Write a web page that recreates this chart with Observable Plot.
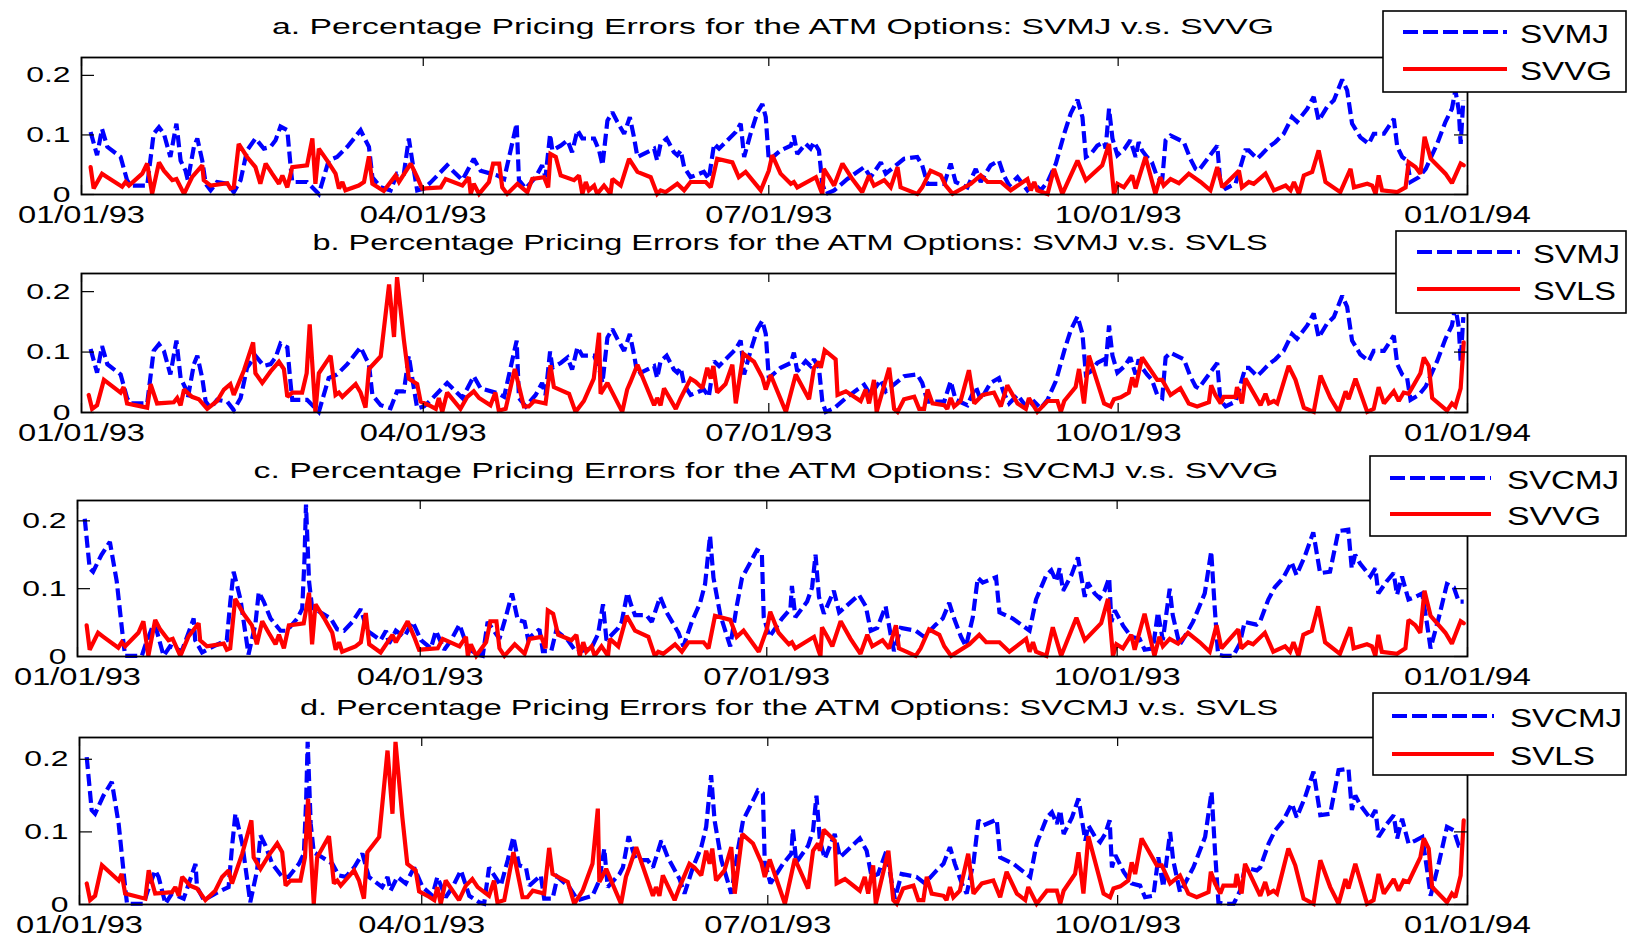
<!DOCTYPE html>
<html><head><meta charset="utf-8">
<script src="https://cdn.jsdelivr.net/npm/d3@7"></script>
<script src="https://cdn.jsdelivr.net/npm/@observablehq/plot@0.6"></script>
<style>
html,body{margin:0;padding:0;background:#fff;}
#root{position:relative;width:1627px;height:937px;overflow:hidden;font-family:"Liberation Sans",Arial,sans-serif;}
#root svg{position:absolute;left:0;margin:0;}
</style></head><body><div id="root"></div>
<script>
// [day of 1993, pricing error]
const svmj = [[2.4,.105],[4.1,.066],[5.4,.110],[6.8,.080],[10.3,.063],[12.0,.024],[12.9,.015],[17.3,.015],[19.0,.102],[20.4,.113],[21.7,.102],[23.4,.063],[25.0,.119],[26.1,.057],[27.4,.040],[28.0,.024],[29.6,.080],[30.5,.094],[31.8,.057],[32.7,.018],[34.0,.007],[35.7,.021],[38.4,.018],[40.1,.004],[41.9,.024],[43.6,.074],[45.8,.094],[48.0,.077],[49.8,.080],[51.1,.091],[52.4,.114],[54.2,.108],[55.0,.052],[55.5,.021],[59.4,.021],[62.5,.001],[65.1,.057],[67.3,.063],[70.0,.080],[73.5,.108],[74.8,.091],[75.7,.080],[76.6,.029],[78.8,.012],[81.4,.007],[83.1,.035],[84.9,.035],[86.2,.094],[87.1,.057],[88.4,.007],[90.2,.010],[91.9,.020],[96.3,.049],[100.3,.024],[103.3,.060],[105.1,.040],[109.5,.032],[111.3,.026],[113.0,.074],[114.6,.119],[115.2,.024],[117.0,.010],[119.6,.029],[121.3,.049],[122.2,.029],[123.4,.101],[124.0,.074],[126.2,.082],[128.0,.091],[129.2,.071],[130.6,.108],[131.9,.094],[135.0,.094],[136.3,.074],[137.2,.049],[138.5,.124],[139.8,.138],[141.1,.122],[142.9,.102],[144.4,.130],[145.5,.096],[146.4,.063],[150.8,.077],[151.6,.057],[152.5,.085],[154.1,.094],[156.0,.071],[156.9,.066],[157.8,.074],[158.7,.046],[160.4,.029],[163.9,.038],[165.2,.026],[166.6,.085],[167.9,.077],[172.3,.105],[173.6,.119],[174.5,.063],[176.2,.102],[178.0,.138],[179.3,.152],[180.2,.130],[181.0,.057],[184.1,.074],[186.8,.082],[187.6,.099],[188.5,.068],[190.7,.085],[192.0,.077],[192.9,.088],[194.2,.074],[195.1,.018],[196.0,.001],[198.2,.007],[201.7,.026],[206.1,.046],[207.8,.029],[210.5,.054],[211.8,.035],[216.6,.060],[220.1,.063],[221.4,.049],[222.8,.018],[227.2,.018],[228.9,.052],[230.2,.021],[233.3,.012],[235.5,.043],[236.8,.021],[239.4,.049],[241.6,.057],[242.9,.032],[244.3,.015],[246.5,.029],[249.1,.007],[250.9,.018],[252.6,.007],[254.4,.021],[256.6,.052],[258.8,.102],[260.5,.136],[262.3,.159],[263.6,.130],[264.5,.063],[265.8,.068],[267.5,.082],[269.3,.088],[269.7,.077],[270.6,.144],[271.5,.094],[272.8,.066],[274.6,.076],[276.2,.091],[277.6,.063],[278.4,.088],[279.3,.074],[280.6,.063],[281.9,.054],[283.3,.029],[284.6,.024],[285.5,.091],[286.8,.099],[290.3,.088],[292.0,.060],[293.4,.043],[294.2,.040],[299.1,.082],[299.9,.021],[301.3,.010],[303.9,.018],[306.5,.074],[307.4,.074],[309.6,.060],[310.9,.068],[312.7,.080],[314.4,.088],[316.6,.102],[318.8,.130],[320.1,.122],[322.8,.144],[324.5,.164],[325.8,.124],[328.0,.147],[329.8,.158],[332.0,.193],[333.3,.175],[334.6,.119],[336.8,.096],[339.0,.085],[340.3,.102],[343.0,.102],[345.6,.127],[346.5,.080],[347.8,.063],[349.1,.057],[350.0,.021],[352.2,.029],[354.0,.043],[357.0,.085],[359.2,.122],[360.9,.144],[361.8,.175],[362.7,.141],[363.2,.085],[363.9,.158]];

const svvg = [[2.4,.046],[3.2,.010],[5.4,.035],[6.8,.029],[10.7,.013],[11.6,.021],[12.5,.015],[16.0,.035],[17.3,.052],[18.6,.001],[20.4,.054],[21.7,.040],[23.9,.024],[25.0,.026],[27.0,.001],[29.1,.029],[31.8,.049],[32.2,.024],[34.0,.015],[38.4,.019],[39.2,.010],[40.1,.012],[41.4,.085],[43.6,.063],[45.8,.046],[47.1,.018],[48.5,.052],[50.2,.035],[52.0,.018],[52.9,.032],[54.2,.012],[55.5,.046],[59.4,.049],[60.8,.094],[61.6,.018],[62.5,.077],[64.7,.057],[66.9,.035],[67.8,.010],[68.7,.021],[69.5,.007],[73.0,.015],[74.4,.021],[75.7,.064],[76.6,.018],[79.6,.006],[82.7,.032],[83.6,.021],[86.7,.052],[88.4,.029],[89.7,.010],[94.6,.012],[95.9,.026],[100.3,.015],[102.0,.029],[102.5,.001],[103.3,.018],[104.7,.001],[107.3,.021],[108.4,.052],[110.0,.052],[110.8,.012],[112.1,.001],[114.8,.018],[117.4,.004],[118.7,.026],[121.8,.029],[122.9,.012],[123.5,.068],[124.9,.063],[126.2,.032],[129.7,.024],[131.0,.032],[131.9,.001],[132.8,.021],[133.6,.007],[135.0,.015],[135.8,.001],[137.6,.015],[139.3,.001],[139.8,.026],[142.0,.015],[144.2,.060],[146.4,.038],[149.9,.029],[151.6,.001],[152.5,.007],[153.8,.004],[156.9,.018],[158.7,.007],[160.4,.021],[164.4,.021],[165.7,.012],[167.4,.060],[171.4,.054],[173.1,.029],[174.9,.038],[178.9,.007],[181.0,.040],[181.9,.066],[184.1,.035],[186.8,.018],[187.6,.021],[188.5,.012],[193.4,.029],[194.7,.007],[195.1,.001],[195.5,.043],[196.9,.029],[198.2,.015],[200.4,.052],[203.0,.026],[205.6,.004],[207.4,.032],[208.7,.015],[211.4,.024],[213.1,.012],[214.9,.046],[215.7,.012],[220.1,.001],[221.4,.012],[223.6,.040],[226.3,.032],[227.6,.015],[229.4,.001],[234.2,.018],[236.8,.032],[238.6,.021],[242.1,.021],[244.7,.007],[249.1,.026],[250.0,.007],[250.9,.021],[251.7,.007],[254.4,.001],[256.1,.043],[258.3,.001],[262.3,.057],[264.5,.024],[268.8,.049],[270.6,.085],[271.9,.001],[272.8,.018],[274.5,.012],[276.7,.032],[277.6,.010],[280.2,.063],[282.8,.001],[284.1,.029],[285.0,.015],[286.8,.026],[289.0,.019],[291.6,.035],[294.7,.021],[297.3,.007],[299.1,.046],[300.4,.012],[304.8,.040],[305.6,.012],[307.4,.021],[308.7,.018],[311.8,.035],[314.0,.007],[317.1,.015],[318.4,.007],[319.3,.021],[320.6,.001],[321.9,.032],[324.1,.038],[325.8,.074],[327.6,.021],[331.5,.004],[334.2,.043],[335.1,.012],[338.6,.018],[339.9,.015],[340.8,.001],[341.6,.032],[342.5,.007],[346.5,.004],[348.7,.012],[349.5,.054],[351.3,.046],[352.6,.035],[353.7,.097],[355.3,.060],[359.2,.035],[360.9,.019],[363.2,.052],[364.0,.049]];

const svcmj = [[1.9,.203],[3.2,.130],[4.1,.125],[6.3,.150],[8.5,.169],[10.3,.111],[12.0,.024],[12.5,.001],[16.9,.001],[17.7,.015],[19.9,.047],[20.8,.038],[22.6,.001],[24.3,.015],[27.4,.008],[30.5,.056],[30.9,.024],[32.7,.006],[35.7,.015],[39.2,.024],[40.1,.079],[41.0,.125],[42.8,.084],[44.9,.003],[46.7,.047],[47.6,.095],[48.9,.081],[50.7,.056],[53.3,.038],[55.0,.038],[57.7,.056],[59.0,.070],[59.6,.143],[60.0,.224],[60.8,.111],[61.6,.072],[63.8,.065],[66.5,.056],[68.2,.040],[70.0,.038],[72.2,.051],[74.4,.070],[76.1,.038],[79.6,.024],[81.0,.038],[81.8,.019],[83.6,.038],[85.8,.029],[88.0,.051],[90.2,.024],[92.8,.012],[94.1,.038],[96.3,.010],[98.1,.024],[100.3,.047],[102.5,.012],[105.1,.003],[106.4,.001],[107.7,.051],[110.8,.026],[112.6,.061],[114.1,.093],[115.6,.054],[117.4,.051],[118.3,.026],[121.3,.040],[122.2,.008],[124.4,.008],[125.7,.038],[128.8,.024],[131.0,.006],[134.9,.012],[136.7,.033],[138.0,.077],[138.9,.024],[142.0,.042],[142.9,.051],[144.4,.094],[145.5,.074],[146.4,.061],[149.4,.061],[150.8,.051],[153.0,.088],[154.7,.065],[157.8,.035],[159.1,.015],[161.3,.051],[163.5,.079],[164.8,.107],[166.1,.178],[167.0,.116],[168.8,.061],[171.4,.015],[173.1,.074],[174.5,.116],[177.1,.143],[178.4,.157],[179.7,.153],[180.2,.058],[181.7,.029],[185.0,.056],[187.2,.070],[187.6,.104],[188.5,.058],[191.6,.081],[192.9,.102],[193.8,.150],[194.7,.088],[196.0,.063],[198.6,.097],[200.0,.065],[205.2,.091],[207.0,.074],[208.3,.038],[210.0,.042],[212.2,.074],[213.5,.033],[214.4,.008],[216.2,.042],[220.1,.038],[222.3,.029],[225.4,.047],[227.2,.056],[228.9,.079],[230.2,.056],[232.0,.029],[233.3,.015],[235.1,.058],[236.4,.116],[237.7,.109],[241.2,.117],[242.1,.065],[245.6,.056],[250.0,.038],[251.7,.084],[254.4,.120],[255.7,.127],[257.0,.111],[257.9,.130],[258.8,.097],[261.0,.120],[262.7,.146],[264.5,.088],[265.3,.109],[267.1,.093],[268.4,.086],[269.7,.097],[270.9,.116],[271.5,.051],[272.4,.068],[274.6,.045],[276.7,.029],[278.9,.026],[280.2,.010],[282.4,.012],[283.7,.065],[285.0,.024],[286.8,.100],[287.6,.061],[289.4,.017],[290.7,.029],[292.9,.051],[296.0,.093],[297.7,.155],[298.6,.074],[299.5,.003],[300.8,.001],[303.5,.001],[305.2,.019],[306.5,.051],[309.6,.047],[310.5,.051],[312.7,.084],[314.4,.102],[316.6,.116],[318.8,.139],[320.1,.120],[322.3,.148],[324.5,.183],[326.3,.123],[328.9,.125],[331.1,.185],[333.7,.187],[334.6,.130],[335.5,.150],[336.8,.137],[339.5,.118],[340.8,.130],[341.6,.093],[343.8,.111],[345.6,.123],[346.5,.091],[347.8,.118],[349.5,.084],[351.3,.088],[353.1,.093],[354.4,.047],[355.3,.012],[357.5,.058],[359.6,.107],[361.4,.102],[362.7,.081],[364.0,.081]];

const svls = [[1.9,.029],[2.8,.006],[4.1,.012],[5.9,.054],[10.3,.033],[11.1,.042],[12.0,.015],[17.3,.008],[18.2,.047],[19.9,.015],[24.3,.017],[25.2,.024],[26.1,.012],[27.0,.038],[29.1,.026],[30.9,.022],[33.1,.006],[35.7,.019],[37.5,.038],[39.2,.047],[40.1,.029],[42.8,.070],[45.2,.116],[45.8,.065],[47.6,.049],[49.8,.068],[52.0,.084],[53.3,.072],[54.2,.026],[55.5,.033],[58.1,.033],[59.3,.065],[60.1,.146],[61.6,.001],[62.5,.065],[65.6,.094],[66.9,.029],[67.8,.033],[68.7,.026],[72.2,.047],[73.5,.033],[74.8,.008],[75.7,.072],[78.8,.093],[81.0,.212],[82.3,.125],[83.1,.224],[84.9,.120],[86.2,.056],[88.4,.047],[89.3,.018],[91.5,.012],[93.3,.006],[94.1,.024],[95.0,.001],[96.3,.033],[99.8,.006],[101.6,.026],[103.3,.035],[104.7,.024],[107.7,.012],[109.0,.033],[109.9,.003],[111.7,.006],[114.1,.072],[116.5,.010],[117.8,.010],[119.2,.019],[122.2,.015],[123.5,.078],[124.4,.042],[128.4,.031],[130.1,.001],[132.3,.019],[134.9,.056],[136.3,.132],[136.7,.031],[138.5,.049],[142.4,.001],[143.7,.038],[144.6,.051],[146.4,.079],[150.8,.012],[151.6,.024],[152.5,.012],[153.4,.040],[156.5,.006],[157.8,.024],[160.4,.056],[161.7,.051],[163.5,.040],[164.8,.074],[165.7,.056],[166.4,.077],[167.4,.033],[169.6,.047],[171.4,.079],[172.3,.015],[174.3,.097],[177.1,.084],[179.3,.058],[180.2,.038],[181.5,.062],[185.5,.001],[188.1,.063],[191.6,.022],[192.9,.074],[194.2,.084],[194.7,.074],[195.7,.103],[198.6,.088],[199.1,.029],[201.3,.035],[205.2,.019],[206.5,.038],[207.4,.015],[208.7,.054],[209.4,.001],[212.7,.074],[214.0,.006],[214.9,.001],[216.6,.022],[219.3,.026],[220.6,.006],[221.9,.006],[222.8,.038],[224.1,.015],[227.2,.012],[228.0,.006],[228.9,.024],[229.8,.010],[231.5,.019],[233.7,.070],[235.1,.015],[237.3,.029],[240.3,.033],[242.1,.010],[243.8,.045],[246.5,.015],[248.7,.006],[249.5,.024],[251.7,.001],[254.4,.019],[257.0,.019],[257.9,.001],[258.8,.019],[261.8,.042],[262.7,.072],[264.0,.015],[265.3,.094],[269.3,.015],[271.0,.010],[271.9,.022],[273.7,.025],[275.8,.033],[276.7,.058],[277.6,.042],[279.3,.091],[283.3,.054],[284.6,.054],[286.8,.029],[289.4,.040],[291.6,.015],[293.8,.010],[296.9,.017],[297.5,.045],[298.6,.029],[300.0,.015],[300.8,.026],[303.9,.026],[304.3,.042],[305.6,.015],[306.5,.056],[310.5,.012],[311.8,.031],[312.7,.015],[314.0,.019],[314.9,.015],[317.9,.077],[319.7,.054],[321.9,.008],[324.5,.001],[326.3,.061],[328.9,.024],[331.1,.001],[332.9,.035],[333.7,.022],[335.5,.056],[338.6,.001],[340.3,.006],[341.6,.042],[343.0,.015],[345.6,.035],[346.9,.019],[348.2,.033],[349.5,.031],[352.6,.065],[353.5,.091],[354.8,.077],[355.7,.024],[359.6,.003],[360.9,.015],[361.8,.010],[363.2,.040],[364.0,.116]];

const xTickLabels = ["01/01/93","04/01/93","07/01/93","10/01/93","01/01/94"];
const yTickValues = [0, 0.1, 0.2];
const panelTitles = [
  "a. Percentage Pricing Errors for the ATM Options: SVMJ v.s. SVVG",
  "b. Percentage Pricing Errors for the ATM Options: SVMJ v.s. SVLS",
  "c. Percentage Pricing Errors for the ATM Options: SVCMJ v.s. SVVG",
  "d. Percentage Pricing Errors for the ATM Options: SVCMJ v.s. SVLS"
];
const blueNames = ["SVMJ","SVMJ","SVCMJ","SVCMJ"];
const redNames = ["SVVG","SVLS","SVVG","SVLS"];
const blueSeries = [svmj, svmj, svcmj, svcmj];
const redSeries = [svvg, svls, svvg, svls];

// layout (pixels)
const layout = [
  {left:81, right:1467, top:57,  bottom:194, titleX:773, titleY:26,  titleLen:1002,
   box:[1383,11,1626,92], lineX:[1403,1507], lineY:[32,69], textX:1520, textLen:[89,92]},
  {left:81, right:1467, top:273, bottom:412, titleX:790, titleY:242, titleLen:955,
   box:[1396,231,1626,313], lineX:[1417,1520], lineY:[252,289], textX:1533, textLen:[87,83]},
  {left:77, right:1467, top:500, bottom:656, titleX:766, titleY:470, titleLen:1025,
   box:[1370,456,1626,536], lineX:[1390,1491], lineY:[478,514], textX:1507, textLen:[112,94]},
  {left:79, right:1467, top:737, bottom:904, titleX:789, titleY:707, titleLen:978,
   box:[1373,693,1626,775], lineX:[1392,1494], lineY:[716,754], textX:1510, textLen:[112,85]}
];

const FONT = '"Liberation Sans", Arial, Helvetica, sans-serif';
const root = document.getElementById("root");
const start = new Date(1993, 0, 1);
const toDate = d => new Date(start.getTime() + d * 86400000);
const parseTick = d3.timeParse("%m/%d/%y");
const xTicks = xTickLabels.map(parseTick);

function stretchText(svg, selector, s) {
  svg.querySelectorAll(selector).forEach(t => {
    const x = t.getAttribute("x");
    const tr = t.getAttribute("transform") || "";
    let extra = "";
    if (x !== null && !isNaN(+x)) { extra = ` translate(${+x},0)`; t.removeAttribute("x"); }
    t.setAttribute("transform", `${tr}${extra} scale(${s},1)`);
  });
}

layout.forEach((L, i) => {
  const mt = 4, mb = 40;
  const H = L.bottom - L.top;
  const W = L.right - L.left;
  const blue = blueSeries[i].map(([d, v]) => ({date: toDate(d), v}));
  const red = redSeries[i].map(([d, v]) => ({date: toDate(d), v}));
  const chart = Plot.plot({
    width: 1627, height: H + mt + mb,
    marginLeft: L.left, marginRight: 1627 - L.right, marginTop: mt, marginBottom: mb,
    style: {fontFamily: FONT, fontSize: "22px", color: "black", background: "transparent", overflow: "visible"},
    x: {type: "time", domain: [xTicks[0], xTicks[xTicks.length - 1]]},
    y: {domain: [0, 0.23]},
    marks: [
      Plot.line(blue, {x: "date", y: "v", stroke: "#0000ff", strokeWidth: 4.2, strokeDasharray: "12,5", strokeLinejoin: "miter", strokeMiterlimit: 2, strokeLinecap: "butt"}),
      Plot.line(red, {x: "date", y: "v", stroke: "#ff0000", strokeWidth: 4.2, strokeLinejoin: "miter", strokeMiterlimit: 2}),
      Plot.tickX(xTicks, {x: d => d, insetTop: H - 9, stroke: "black", strokeWidth: 1.2}),
      Plot.tickX(xTicks, {x: d => d, insetBottom: H - 9, stroke: "black", strokeWidth: 1.2}),
      Plot.tickY(yTickValues, {y: d => d, insetRight: W - 13, stroke: "black", strokeWidth: 1.2}),
      Plot.tickY(yTickValues, {y: d => d, insetLeft: W - 13, stroke: "black", strokeWidth: 1.2}),
      Plot.axisX({ticks: xTicks, tickFormat: d3.timeFormat("%m/%d/%y"), tickSize: 0, tickPadding: 11, label: null}),
      Plot.axisY({ticks: yTickValues, tickFormat: d => d === 0 ? "0" : d3.format(".1f")(d), tickSize: 0, tickPadding: 11, label: null}),
      Plot.frame({stroke: "black", strokeWidth: 1.8})
    ]
  });
  chart.style.top = (L.top - mt) + "px";
  chart.querySelectorAll('g[aria-label="x-axis tick label"]').forEach(g => g.setAttribute("font-size", "24"));
  chart.querySelectorAll('g[aria-label="y-axis tick label"]').forEach(g => g.setAttribute("font-size", "22"));
  stretchText(chart, 'g[aria-label="x-axis tick label"] text', 1.36);
  stretchText(chart, 'g[aria-label="y-axis tick label"] text', 1.45);
  root.appendChild(chart);
});

// titles and legends overlay
const ov = d3.create("svg").attr("width", 1627).attr("height", 937)
  .style("top", "0px").style("font-family", FONT);
layout.forEach((L, i) => {
  ov.append("text").attr("x", L.titleX).attr("y", L.titleY + 8)
    .attr("text-anchor", "middle").attr("font-size", 22)
    .attr("textLength", L.titleLen).attr("lengthAdjust", "spacingAndGlyphs")
    .text(panelTitles[i]);
  const [x0, y0, x1, y1] = L.box;
  ov.append("rect").attr("x", x0).attr("y", y0).attr("width", x1 - x0).attr("height", y1 - y0)
    .attr("fill", "white").attr("stroke", "black").attr("stroke-width", 1.6);
  ov.append("line").attr("x1", L.lineX[0]).attr("x2", L.lineX[1]).attr("y1", L.lineY[0]).attr("y2", L.lineY[0])
    .attr("stroke", "#0000ff").attr("stroke-width", 4).attr("stroke-dasharray", "15,5");
  ov.append("line").attr("x1", L.lineX[0]).attr("x2", L.lineX[1]).attr("y1", L.lineY[1]).attr("y2", L.lineY[1])
    .attr("stroke", "#ff0000").attr("stroke-width", 4);
  ov.append("text").attr("x", L.textX).attr("y", L.lineY[0] + 11).attr("font-size", 25)
    .attr("textLength", L.textLen[0]).attr("lengthAdjust", "spacingAndGlyphs").text(blueNames[i]);
  ov.append("text").attr("x", L.textX).attr("y", L.lineY[1] + 11).attr("font-size", 25)
    .attr("textLength", L.textLen[1]).attr("lengthAdjust", "spacingAndGlyphs").text(redNames[i]);
});
root.appendChild(ov.node());
</script></body></html>
